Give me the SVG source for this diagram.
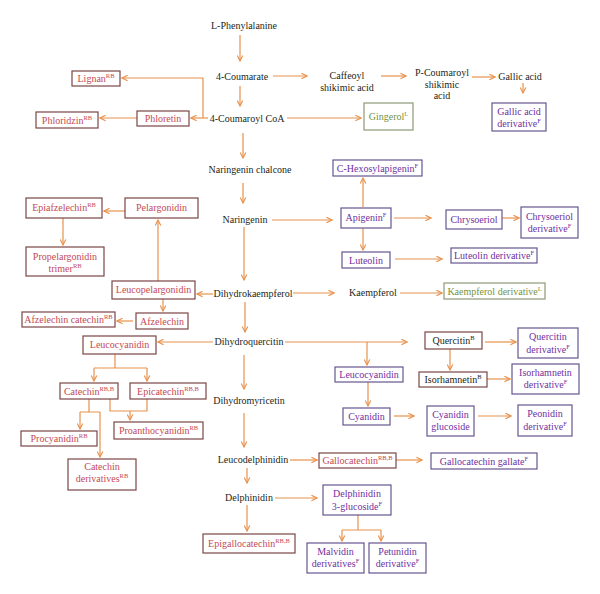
<svg xmlns="http://www.w3.org/2000/svg" width="600" height="594" viewBox="0 0 600 594">
<defs>
<style>
text{font-family:"Liberation Serif","Times New Roman",serif;font-size:10px;text-anchor:middle}
.k{fill:#231f20}
.r{fill:#c44a55}
.p{fill:#7030a0}
.g{fill:#76923c}
.br{fill:#fff;stroke:#7b4545;stroke-width:1.2}
.bp{fill:#fff;stroke:#65558f;stroke-width:1.2}
.bg{fill:#fff;stroke:#8d9a78;stroke-width:1.2}
.s{font-size:6.5px}
#connectors path{fill:none;stroke:#e8914c;stroke-width:1.2}
#connectors path.a{marker-end:url(#ah)}
</style>
<marker id="ah" viewBox="0 0 10 10" refX="9" refY="5" markerWidth="7" markerHeight="7" markerUnits="userSpaceOnUse" orient="auto">
<path d="M1,1 L9,5 L1,9" fill="none" stroke="#e8914c" stroke-width="1.6"/>
</marker>
</defs>
<rect width="600" height="594" fill="#fff"/>

<g id="connectors">
<path class="a" d="M240,35 V61"/>
<path class="a" d="M273,76 H307"/>
<path class="a" d="M240,86 V106"/>
<path class="a" d="M381,76 H406"/>
<path class="a" d="M472,77 H495"/>
<path class="a" d="M523,83 V93"/>
<path class="a" d="M208,118 H191"/>
<path class="a" d="M203,118 V78 H122"/>
<path class="a" d="M137,118 H100"/>
<path class="a" d="M287,118 H361"/>
<path class="a" d="M243,133 V158"/>
<path class="a" d="M243,183 V203"/>
<path class="a" d="M272,220 H332"/>
<path class="a" d="M363,207 V178"/>
<path class="a" d="M394,218 H431"/>
<path class="a" d="M502,218 H519"/>
<path class="a" d="M363,228 V250"/>
<path class="a" d="M395,259 H442"/>
<path class="a" d="M244,227 V280"/>
<path class="a" d="M213,294 H197"/>
<path class="a" d="M158,281 V220"/>
<path class="a" d="M125,211 H104"/>
<path class="a" d="M63,218 V245"/>
<path class="a" d="M293,293 H334"/>
<path class="a" d="M400,293 H442"/>
<path class="a" d="M163,299 V311"/>
<path class="a" d="M133,321 H117"/>
<path class="a" d="M245,302 V332"/>
<path class="a" d="M213,342 H158"/>
<path class="a" d="M285,342 H407"/>
<path class="a" d="M367,342 V365"/>
<path d="M115,354 V368 M94,368 H147"/>
<path class="a" d="M94,368 V381"/>
<path class="a" d="M147,368 V381"/>
<path d="M110,399 V411 H147 V399"/>
<path class="a" d="M130,411 V420"/>
<path d="M89,399 V412 M80,412 H100"/>
<path class="a" d="M80,412 V429"/>
<path class="a" d="M100,412 V457"/>
<path class="a" d="M244,355 V389"/>
<path class="a" d="M244,413 V447"/>
<path class="a" d="M290,460 H317"/>
<path class="a" d="M396,460 H422"/>
<path class="a" d="M247,468 V483"/>
<path class="a" d="M275,498 H317"/>
<path class="a" d="M247,505 V531"/>
<path d="M358,515 V530 M342,530 H381"/>
<path class="a" d="M342,530 V541"/>
<path class="a" d="M381,530 V541"/>
<path class="a" d="M485,342 H516"/>
<path class="a" d="M450,349 V370"/>
<path class="a" d="M487,379 H510"/>
<path class="a" d="M368,382 V406"/>
<path class="a" d="M394,416 H414"/>
<path class="a" d="M478,416 H511"/>
</g>

<!-- plain black nodes -->
<g id="n-phenylalanine"><text class="k" x="244" y="28.5">L-Phenylalanine</text></g>
<g id="n-coumarate"><text class="k" x="242" y="80">4-Coumarate</text></g>
<g id="n-coumaroylcoa"><text class="k" x="247" y="122">4-Coumaroyl CoA</text></g>
<g id="n-caffeoyl"><text class="k" x="347" y="79">Caffeoyl</text><text class="k" x="347" y="90.5">shikimic acid</text></g>
<g id="n-pcoumaroyl"><text class="k" x="442" y="76">P-Coumaroyl</text><text class="k" x="442" y="87.5">shikimic</text><text class="k" x="442" y="99">acid</text></g>
<g id="n-gallic"><text class="k" x="520" y="80">Gallic acid</text></g>
<g id="n-chalcone"><text class="k" x="250" y="173">Naringenin chalcone</text></g>
<g id="n-naringenin"><text class="k" x="245" y="223">Naringenin</text></g>
<g id="n-dihydrokaempferol"><text class="k" x="253" y="297">Dihydrokaempferol</text></g>
<g id="n-kaempferol"><text class="k" x="373" y="296">Kaempferol</text></g>
<g id="n-dihydroquercitin"><text class="k" x="249" y="345">Dihydroquercitin</text></g>
<g id="n-dihydromyricetin"><text class="k" x="249" y="404">Dihydromyricetin</text></g>
<g id="n-leucodelphinidin"><text class="k" x="253" y="463">Leucodelphinidin</text></g>
<g id="n-delphinidin"><text class="k" x="249" y="501">Delphinidin</text></g>

<!-- red boxes -->
<g id="n-lignan"><rect class="br" x="72" y="71" width="48" height="15"/><text class="r" x="96" y="82">Lignan<tspan class="s" dy="-4">RB</tspan></text></g>
<g id="n-phloridzin"><rect class="br" x="36" y="112" width="62" height="16"/><text class="r" x="67" y="123.5">Phloridzin<tspan class="s" dy="-4">RB</tspan></text></g>
<g id="n-phloretin"><rect class="br" x="137" y="111" width="52" height="15"/><text class="r" x="163" y="122">Phloretin</text></g>
<g id="n-epiafzelechin"><rect class="br" x="26" y="198" width="76" height="20"/><text class="r" x="64" y="211">Epiafzelechin<tspan class="s" dy="-4">RB</tspan></text></g>
<g id="n-pelargonidin"><rect class="br" x="125" y="198" width="73" height="20"/><text class="r" x="161.5" y="211">Pelargonidin</text></g>
<g id="n-propelargonidin"><rect class="br" x="26" y="247" width="78" height="29"/><text class="r" x="65" y="260">Propelargonidin</text><text class="r" x="65" y="272">trimer<tspan class="s" dy="-4">RB</tspan></text></g>
<g id="n-leucopelargonidin"><rect class="br" x="112" y="281" width="83" height="18"/><text class="r" x="153.5" y="293">Leucopelargonidin</text></g>
<g id="n-afzelechin"><rect class="br" x="136" y="313" width="52" height="16"/><text class="r" x="162" y="324.5">Afzelechin</text></g>
<g id="n-afzelechincatechin"><rect class="br" x="22" y="312" width="93" height="15"/><text class="r" x="68.5" y="323">Afzelechin catechin<tspan class="s" dy="-4">RB</tspan></text></g>
<g id="n-leucocyanidin-r"><rect class="br" x="83" y="336" width="73" height="18"/><text class="r" x="119.5" y="348">Leucocyanidin</text></g>
<g id="n-catechin"><rect class="br" x="60" y="383" width="58" height="16"/><text class="r" x="89" y="394.5">Catechin<tspan class="s" dy="-4">RB,B</tspan></text></g>
<g id="n-epicatechin"><rect class="br" x="130" y="383" width="76" height="16"/><text class="r" x="168" y="394.5">Epicatechin<tspan class="s" dy="-4">RB,B</tspan></text></g>
<g id="n-proanthocyanidin"><rect class="br" x="114" y="422" width="89" height="17"/><text class="r" x="158.5" y="434">Proanthocyanidin<tspan class="s" dy="-4">RB</tspan></text></g>
<g id="n-procyanidin"><rect class="br" x="21" y="431" width="76" height="15"/><text class="r" x="59" y="442">Procyanidin<tspan class="s" dy="-4">RB</tspan></text></g>
<g id="n-catechinderiv"><rect class="br" x="68" y="459" width="68" height="31"/><text class="r" x="102" y="470">Catechin</text><text class="r" x="102" y="482">derivatives<tspan class="s" dy="-4">RB</tspan></text></g>
<g id="n-gallocatechin"><rect class="br" x="319" y="453" width="77" height="15"/><text class="r" x="357.5" y="464">Gallocatechin<tspan class="s" dy="-4">RB,B</tspan></text></g>
<g id="n-epigallocatechin"><rect class="br" x="203" y="534" width="92" height="19"/><text class="r" x="249" y="547">Epigallocatechin<tspan class="s" dy="-4">RB,B</tspan></text></g>
<g id="n-quercitin"><rect class="br" x="425" y="332" width="57" height="17"/><text class="k" x="453.5" y="344">Quercitin<tspan class="s" dy="-4">B</tspan></text></g>
<g id="n-isorhamnetin"><rect class="br" x="419" y="372" width="68" height="15"/><text class="k" x="453" y="383">Isorhamnetin<tspan class="s" dy="-4">B</tspan></text></g>

<!-- purple boxes -->
<g id="n-gallicderiv"><rect class="bp" x="492" y="103" width="54" height="28"/><text class="p" x="519" y="115">Gallic acid</text><text class="p" x="519" y="127">derivative<tspan class="s" dy="-4">F</tspan></text></g>
<g id="n-chexosyl"><rect class="bp" x="333" y="160" width="89" height="16"/><text class="p" x="377.5" y="171.5">C-Hexosylapigenin<tspan class="s" dy="-4">F</tspan></text></g>
<g id="n-apigenin"><rect class="bp" x="341" y="208" width="50" height="20"/><text class="p" x="366" y="221">Apigenin<tspan class="s" dy="-4">F</tspan></text></g>
<g id="n-chrysoeriol"><rect class="bp" x="446" y="210" width="56" height="19"/><text class="p" x="474" y="222.5">Chrysoeriol</text></g>
<g id="n-chrysoeriolderiv"><rect class="bp" x="521" y="207" width="57" height="31"/><text class="p" x="549.5" y="220">Chrysoeriol</text><text class="p" x="549.5" y="232">derivative<tspan class="s" dy="-4">F</tspan></text></g>
<g id="n-luteolin"><rect class="bp" x="342" y="252" width="48" height="16"/><text class="p" x="366" y="263.5">Luteolin</text></g>
<g id="n-luteolinderiv"><rect class="bp" x="451" y="248" width="86" height="15"/><text class="p" x="494" y="259">Luteolin derivative<tspan class="s" dy="-4">F</tspan></text></g>
<g id="n-quercitinderiv"><rect class="bp" x="518" y="328" width="60" height="30"/><text class="p" x="548" y="340">Quercitin</text><text class="p" x="548" y="353">derivative<tspan class="s" dy="-4">F</tspan></text></g>
<g id="n-isorhamnetinderiv"><rect class="bp" x="512" y="364" width="67" height="30"/><text class="p" x="545.5" y="376">Isorhamnetin</text><text class="p" x="545.5" y="388">derivative<tspan class="s" dy="-4">F</tspan></text></g>
<g id="n-leucocyanidin-p"><rect class="bp" x="335" y="367" width="68" height="15"/><text class="p" x="369" y="378">Leucocyanidin</text></g>
<g id="n-cyanidin"><rect class="bp" x="343" y="408" width="47" height="17"/><text class="p" x="366.5" y="420">Cyanidin</text></g>
<g id="n-cyanidinglucoside"><rect class="bp" x="427" y="406" width="47" height="30"/><text class="p" x="450.5" y="418">Cyanidin</text><text class="p" x="450.5" y="430">glucoside</text></g>
<g id="n-peonidin"><rect class="bp" x="518" y="405" width="54" height="31"/><text class="p" x="545" y="417">Peonidin</text><text class="p" x="545" y="430">derivative<tspan class="s" dy="-4">F</tspan></text></g>
<g id="n-gallocatechingallate"><rect class="bp" x="431" y="453" width="106" height="16"/><text class="p" x="484" y="464.5">Gallocatechin gallate<tspan class="s" dy="-4">F</tspan></text></g>
<g id="n-delphinidin3g"><rect class="bp" x="323" y="485" width="68" height="30"/><text class="p" x="357" y="497">Delphinidin</text><text class="p" x="357" y="510">3-glucoside<tspan class="s" dy="-4">F</tspan></text></g>
<g id="n-malvidin"><rect class="bp" x="307" y="543" width="57" height="30"/><text class="p" x="335.5" y="555">Malvidin</text><text class="p" x="335.5" y="567">derivatives<tspan class="s" dy="-4">F</tspan></text></g>
<g id="n-petunidin"><rect class="bp" x="369" y="543" width="57" height="30"/><text class="p" x="397.5" y="555">Petunidin</text><text class="p" x="397.5" y="567">derivative<tspan class="s" dy="-4">F</tspan></text></g>

<!-- green boxes -->
<g id="n-gingerol"><rect class="bg" x="364" y="103" width="49" height="27"/><text class="g" x="388.5" y="120">Gingerol<tspan class="s" dy="-4">L</tspan></text></g>
<g id="n-kaempferolderiv"><rect class="bg" x="444" y="283" width="101" height="16"/><text class="g" x="494.5" y="294.5">Kaempferol derivative<tspan class="s" dy="-4">L</tspan></text></g>
</svg>
